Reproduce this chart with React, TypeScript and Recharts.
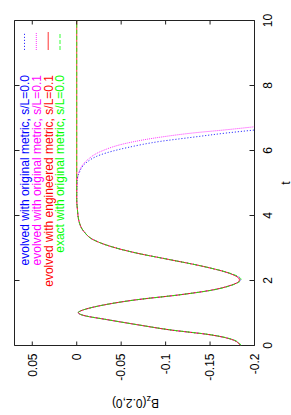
import React from 'react';
import { LineChart, Line, XAxis, YAxis, ReferenceArea } from 'recharts';

// ---- data ----
// time samples of the pulse (common part)
const T_PULSE = [0, 0.17, 0.33, 0.48, 0.64, 0.81, 0.91, 0.96, 1.01, 1.06, 1.11, 1.25, 1.41, 1.55, 1.71, 1.84, 1.94, 2.02, 2.1, 2.2, 2.43, 2.64, 2.84, 3.05, 3.25, 3.51, 3.82, 4.18, 4.5];
const B_EXACT = [-0.185, -0.177, -0.151, -0.106, -0.068, -0.031, -0.01, -0.004, -0.0015, -0.004, -0.009, -0.031, -0.068, -0.113, -0.154, -0.173, -0.182, -0.185, -0.183, -0.175, -0.143, -0.105, -0.068, -0.038, -0.019, -0.008, -0.0026, -0.0008, 0];
const B_ENGINEERED = [-0.184, -0.176, -0.15, -0.105, -0.068, -0.031, -0.01, -0.004, -0.0018, -0.004, -0.009, -0.031, -0.068, -0.113, -0.153, -0.172, -0.181, -0.183, -0.181, -0.174, -0.143, -0.105, -0.068, -0.038, -0.019, -0.008, -0.0026, -0.0008, 0];
const B_ORIGINAL_PULSE = [-0.184, -0.176, -0.15, -0.105, -0.068, -0.031, -0.01, -0.004, -0.0016, -0.004, -0.009, -0.031, -0.068, -0.113, -0.153, -0.172, -0.181, -0.184, -0.182, -0.174, -0.143, -0.105, -0.068, -0.038, -0.019, -0.008, -0.0026, -0.0008, 0];
const T_FLAT = [10];
const B_FLAT = [0];
// late-time drift of the runs with the original metric
const T_TAIL_S00 = [5.05, 5.3, 5.61, 5.87, 6.09, 6.28, 6.41, 6.54, 6.63];
const B_TAIL_S00 = [-0.0003, -0.0026, -0.01, -0.027, -0.057, -0.094, -0.131, -0.169, -0.2];
const T_TAIL_S01 = [5.1, 5.46, 5.71, 5.97, 6.23, 6.41, 6.54, 6.64, 6.73];
const B_TAIL_S01 = [-0.0008, -0.0045, -0.012, -0.027, -0.057, -0.094, -0.131, -0.169, -0.2];

const SERIES_NAMES = [
  'evolved with original metric, s/L=0.0',
  'evolved with original metric, s/L=0.1',
  'evolved with engineered metric, s/L=0.1',
  'exact with original metric, s/L=0.0',
];
const SERIES_COLORS = ['#0000ff', '#ff00ff', '#ff0000', '#00ff00'];
const SERIES_DASH = ['1.2 1.8', '1 1', undefined, '4 2'];

const T_TICKS = [0, 2, 4, 6, 8, 10];
const B_TICKS = [-0.2, -0.15, -0.1, -0.05, 0, 0.05];

const toRows = (ts: number[], bs: number[]) => ts.map((t, i) => ({ t, b: bs[i] }));

const ROWS_S00 = toRows([...T_PULSE, ...T_TAIL_S00], [...B_ORIGINAL_PULSE, ...B_TAIL_S00]);
const ROWS_S01 = toRows([...T_PULSE, ...T_TAIL_S01], [...B_ORIGINAL_PULSE, ...B_TAIL_S01]);
const ROWS_ENG = toRows([...T_PULSE, ...T_FLAT], [...B_ENGINEERED, ...B_FLAT]);
const ROWS_EXACT = toRows([...T_PULSE, ...T_FLAT], [...B_EXACT, ...B_FLAT]);
const SERIES_ROWS = [ROWS_S00, ROWS_S01, ROWS_ENG, ROWS_EXACT];

// ---- layout (unrotated frame: 415 wide x 291 tall) ----
const W = 415;
const H = 291;
const PLOT_LEFT = 69.5;
const PLOT_RIGHT = 394.5;
const PLOT_TOP = 14.5;
const PLOT_BOTTOM = 254.5;
const FONT = '"Liberation Sans", Arial, Helvetica, sans-serif';
const AXIS_COLOR = '#222';

function TTick(props: any) {
  const { x, y, payload } = props;
  return (
    <g>
      <line x1={x} x2={x} y1={PLOT_BOTTOM} y2={PLOT_BOTTOM - 5} stroke={AXIS_COLOR} />
      <line x1={x} x2={x} y1={PLOT_TOP} y2={PLOT_TOP + 5} stroke={AXIS_COLOR} />
      <text x={x} y={y} dy="0.71em" textAnchor="middle" fontSize={12} fontFamily={FONT} fill="#000">
        {String(payload.value)}
      </text>
    </g>
  );
}

function BTick(props: any) {
  const { x, y, payload } = props;
  return (
    <g>
      <line x1={PLOT_LEFT} x2={PLOT_LEFT + 4} y1={y} y2={y} stroke={AXIS_COLOR} />
      <line x1={PLOT_RIGHT - 4} x2={PLOT_RIGHT} y1={y} y2={y} stroke={AXIS_COLOR} />
      <text x={x} y={y} dy="0.355em" textAnchor="end" fontSize={12} fontFamily={FONT} fill="#000">
        {String(payload.value)}
      </text>
    </g>
  );
}

function TLabel() {
  return (
    <text x={(PLOT_LEFT + PLOT_RIGHT) / 2} y={289.5} textAnchor="middle" fontSize={12} fontFamily={FONT} fill="#000">
      t
    </text>
  );
}

function BLabel() {
  const cx = 16;
  const cy = (PLOT_TOP + PLOT_BOTTOM) / 2 + 1;
  return (
    <text x={cx} y={cy} transform={`rotate(-90 ${cx} ${cy})`} textAnchor="middle" fontSize={12} fontFamily={FONT} fill="#000">
      <tspan>B</tspan>
      <tspan dy={3} fontSize={9}>z</tspan>
      <tspan dy={-3}>(0.2,0)</tspan>
    </text>
  );
}

const LEGEND_Y = [24.5, 36.3, 48.2, 60];
const LEGEND_TEXT_END = 340;
const LEGEND_SAMPLE = [365, 383];

export default function App() {
  return (
    <div
      style={{
        position: 'absolute',
        left: 0,
        top: 0,
        width: W,
        height: H,
        background: '#fff',
        transformOrigin: '0 0',
        transform: `translate(0px, ${W}px) rotate(-90deg)`,
      }}
    >
      <LineChart width={W} height={H} margin={{ top: PLOT_TOP, right: W - PLOT_RIGHT, bottom: H - PLOT_BOTTOM - 30, left: PLOT_LEFT - 60 }}>
        <XAxis
          dataKey="t"
          type="number"
          domain={[0, 10]}
          ticks={T_TICKS}
          allowDataOverflow
          axisLine={false}
          tickLine={false}
          tickSize={9}
          tickMargin={0}
          height={30}
          interval={0}
          tick={<TTick />}
          label={<TLabel />}
        />
        <YAxis
          dataKey="b"
          type="number"
          domain={[-0.2, 0.07]}
          ticks={B_TICKS}
          allowDataOverflow
          axisLine={false}
          tickLine={false}
          tickSize={8}
          tickMargin={0}
          width={60}
          interval={0}
          tick={<BTick />}
          label={<BLabel />}
        />
        <ReferenceArea x1={0} x2={10} y1={-0.2} y2={0.07} fill="none" fillOpacity={0} stroke={AXIS_COLOR} strokeWidth={1} />
        {SERIES_ROWS.map((rows, i) => (
          <Line
            key={SERIES_NAMES[i]}
            data={rows}
            dataKey="b"
            name={SERIES_NAMES[i]}
            type="monotone"
            stroke={SERIES_COLORS[i]}
            strokeWidth={0.8}
            strokeDasharray={SERIES_DASH[i]}
            dot={false}
            activeDot={false}
            isAnimationActive={false}
          />
        ))}
      </LineChart>
      <svg width={W} height={H} style={{ position: 'absolute', left: 0, top: 0, pointerEvents: 'none' }}>
        {SERIES_NAMES.map((name, i) => (
          <g key={name}>
            <text x={LEGEND_TEXT_END} y={LEGEND_Y[i] + 4.3} textAnchor="end" fontSize={12} fontFamily={FONT} fill={SERIES_COLORS[i]}>
              {name}
            </text>
            <line
              x1={LEGEND_SAMPLE[0]}
              x2={LEGEND_SAMPLE[1]}
              y1={LEGEND_Y[i]}
              y2={LEGEND_Y[i]}
              stroke={SERIES_COLORS[i]}
              strokeWidth={0.8}
              strokeDasharray={SERIES_DASH[i]}
            />
          </g>
        ))}
      </svg>
    </div>
  );
}
